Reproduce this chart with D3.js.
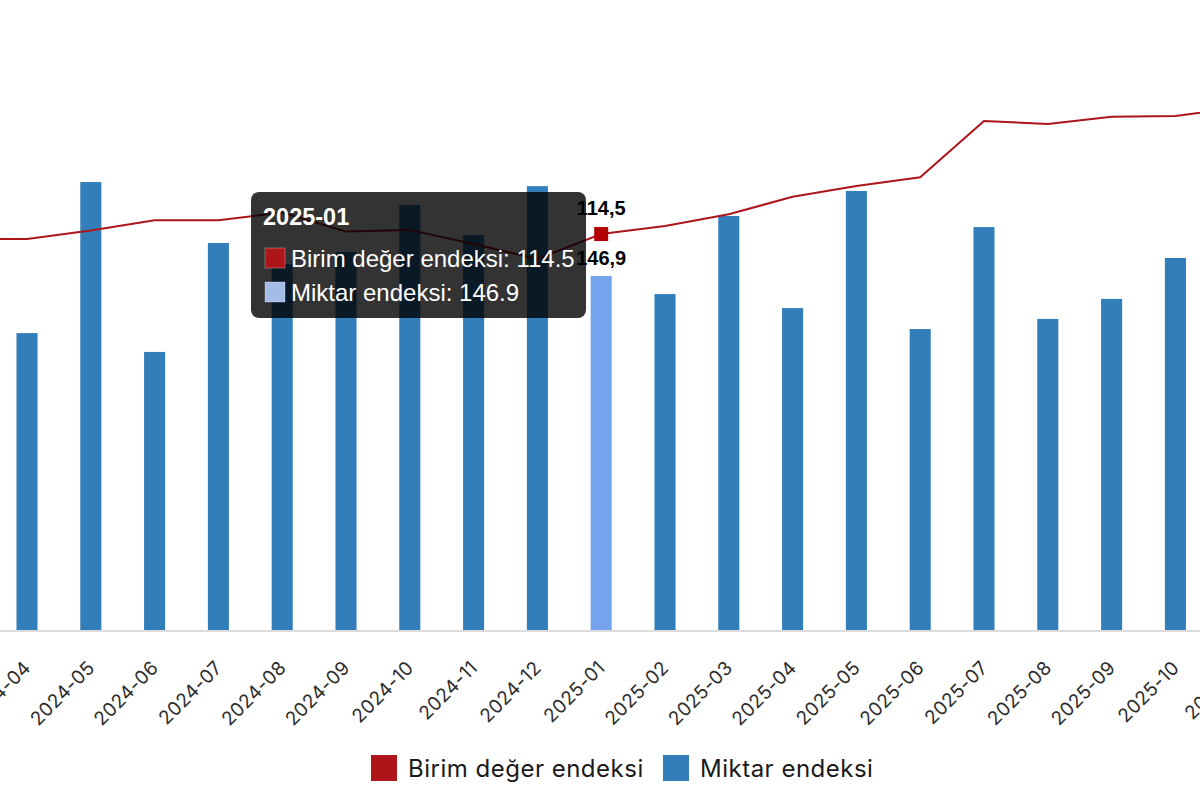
<!DOCTYPE html>
<html>
<head>
<meta charset="utf-8">
<script src="https://cdn.jsdelivr.net/npm/d3@7"></script>
<style>
  body { margin: 0; background: #fff; }
  svg { display: block; }
</style>
</head>
<body>
<script>
// aylar (ilk ve son ay grafiğin kenarından taşıyor)
const months = ["2024-03","2024-04","2024-05","2024-06","2024-07","2024-08","2024-09","2024-10","2024-11","2024-12",
                "2025-01","2025-02","2025-03","2025-04","2025-05","2025-06","2025-07","2025-08","2025-09","2025-10","2025-11"]
const birim = [113.1,113.1,115.5,118.5,118.5,120.7,115.2,115.7,111.6,107.3,
               114.5,116.8,120.2,125.3,128.4,130.9,147.2,146.3,148.4,148.6,151.1]
const miktar = [null,123.2,185.9,115.4,160.6,151.9,156.9,176.4,163.9,184.2,
                146.9,139.4,171.8,133.6,182.2,124.9,167.2,129.1,137.4,154.4,null]
const seriesNames = ["Birim değer endeksi", "Miktar endeksi"]
const activeMonth = "2025-01"

const width = 1200, height = 800
const plotBottom = 630, plotTop = 30

const svg = d3.select("body").append("svg")
  .attr("width", width).attr("height", height)

const x = d3.scaleBand().domain(months).range([-68.7, -68.7 + 63.8 * months.length]).padding(0)
const yBar = d3.scaleLinear().domain([0, 249]).range([plotBottom, plotTop])
const yLine = d3.scaleLinear().domain([0, 173.5]).range([plotBottom, plotTop])
const cx = d => x(d) + x.bandwidth() / 2
const barW = x.bandwidth() * 0.33

const comma = d3.formatLocale({decimal: ",", thousands: ".", grouping: [3], currency: ["", ""]}).format(".1f")

// barlar
svg.append("g").selectAll("rect")
  .data(months.map((m, i) => ({m, v: miktar[i]})).filter(d => d.v != null))
  .enter().append("rect")
    .attr("x", d => cx(d.m) - barW / 2)
    .attr("y", d => yBar(d.v))
    .attr("width", barW)
    .attr("height", d => plotBottom - yBar(d.v))
    .attr("fill", d => d.m === activeMonth ? "#75a3ee" : "#317eba")

// eksen
const xAxis = d3.axisBottom(x).tickSize(0).tickPadding(0)
const gx = svg.append("g").attr("transform", `translate(0,${plotBottom})`).call(xAxis)
gx.select(".domain").remove()
svg.append("line").attr("x1", 0).attr("x2", width).attr("y1", plotBottom + 1).attr("y2", plotBottom + 1)
  .attr("stroke", "#dcdcdc").attr("stroke-width", 2)
gx.selectAll(".tick text")
  .attr("text-anchor", "end")
  .attr("fill", "#2e2e2e")
  .style("font-family", "Inter, 'Open Sans', sans-serif")
  .style("font-size", "19px")
  .style("letter-spacing", "0.3px")
  .attr("y", 0).attr("dy", 0)
  .attr("transform", "translate(5,39) rotate(-45)")

// çizgi
const line = d3.line().x((d, i) => cx(months[i])).y(d => yLine(d))
svg.append("path")
  .attr("d", line(birim))
  .attr("fill", "none")
  .attr("stroke", "#ad151b")
  .attr("stroke-width", 2)

// aktif nokta
const ai = months.indexOf(activeMonth)
svg.append("rect")
  .attr("x", cx(activeMonth) - 7).attr("y", yLine(birim[ai]) - 7)
  .attr("width", 14).attr("height", 14)
  .attr("fill", "#b30000")

const lbl = svg.append("g").style("font-family", "'Liberation Sans', Arial, sans-serif")
  .style("font-weight", "bold").style("font-size", "20px").attr("text-anchor", "middle")
lbl.append("text").attr("x", cx(activeMonth)).attr("y", yLine(birim[ai]) - 19).text(comma(birim[ai]))
lbl.append("text").attr("x", cx(activeMonth)).attr("y", yBar(miktar[ai]) - 11).text(comma(miktar[ai]))

// tooltip
const tip = svg.append("g").attr("transform", "translate(251,192)")
  .style("font-family", "'Liberation Sans', Arial, sans-serif")
tip.append("rect").attr("width", 335).attr("height", 126).attr("rx", 8)
  .attr("fill", "rgba(0,0,0,0.8)")
tip.append("text").attr("x", 12).attr("y", 33).attr("fill", "#fff")
  .style("font-weight", "bold").style("font-size", "23.5px").text(activeMonth)
const tipRows = [
  {name: seriesNames[0], v: birim[ai], c: "#ad151b"},
  {name: seriesNames[1], v: miktar[ai], c: "#a4bde8"}
]
tipRows.forEach((r, i) => {
  tip.append("rect").attr("x", 14).attr("y", 56 + i * 34).attr("width", 20).attr("height", 20)
    .attr("fill", r.c).attr("stroke", "rgba(255,255,255,0.3)").attr("stroke-width", 1)
  tip.append("text").attr("x", 40).attr("y", 75 + i * 34).attr("fill", "#fff")
    .style("font-size", "24px").text(`${r.name}: ${r.v.toFixed(1)}`)
})

// lejant
const legend = svg.append("g").style("font-family", "Inter, 'Open Sans', sans-serif")
  .style("font-size", "24px").style("letter-spacing", "0.5px")
const legItems = [{name: seriesNames[0], c: "#ad151b", x: 371}, {name: seriesNames[1], c: "#317eba", x: 663}]
legItems.forEach(l => {
  legend.append("rect").attr("x", l.x).attr("y", 755).attr("width", 26).attr("height", 26).attr("fill", l.c)
  legend.append("text").attr("x", l.x + 37).attr("y", 777).attr("fill", "#1a1a1a").text(l.name)
})
</script>
</body>
</html>
